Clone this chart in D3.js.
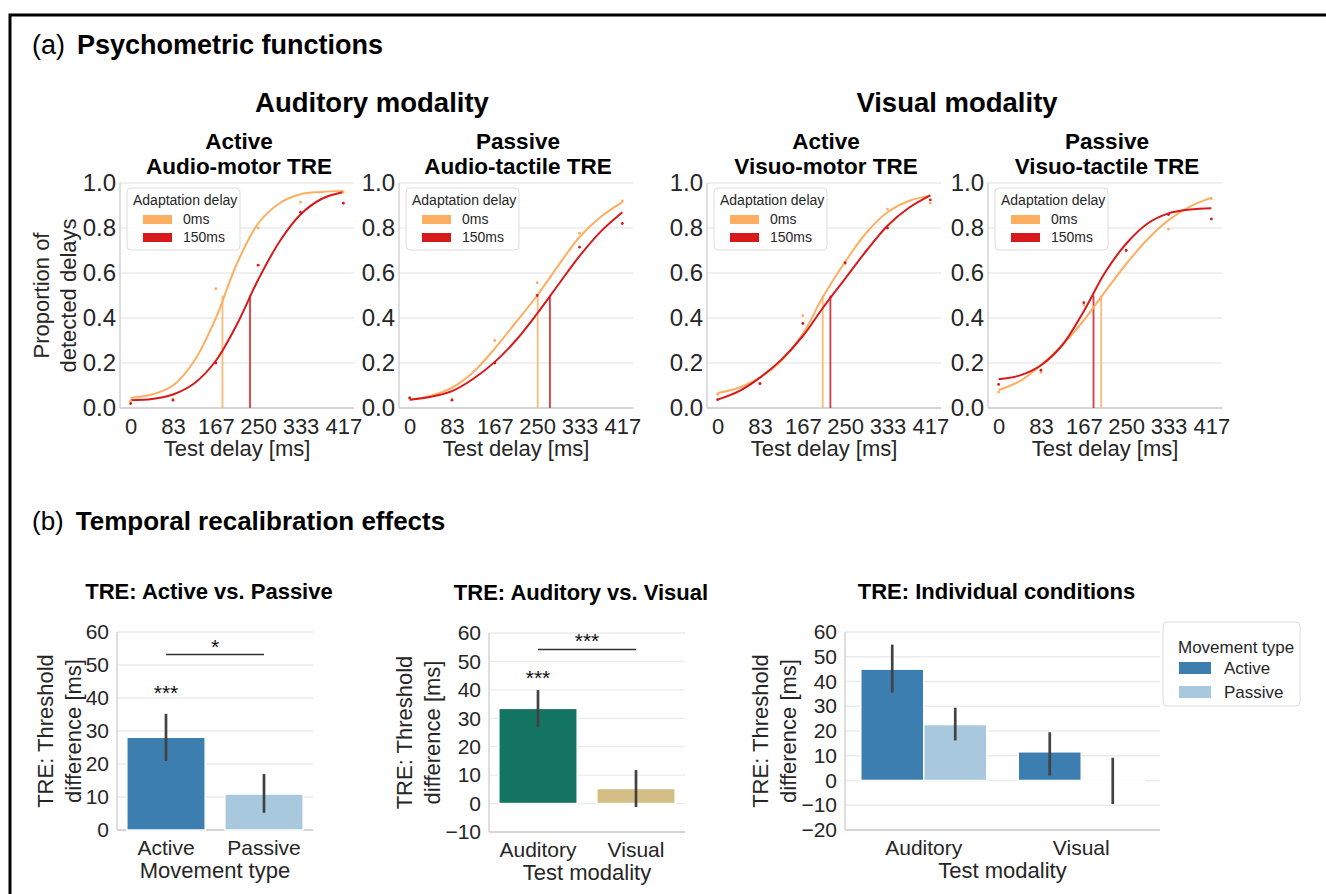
<!DOCTYPE html>
<html>
<head>
<meta charset="utf-8">
<script src="https://cdn.jsdelivr.net/npm/d3@7"></script>
<style>
  body { margin: 0; background: #fff; }
  svg { display: block; font-family: "Liberation Sans", Arial, sans-serif; }
</style>
</head>
<body>
<div id="container"></div>
<script>
// ---------------------------------------------------------------------
// Data, (a) psychometric functions
const delayTicks = [0, 83, 167, 250, 333, 417];
const fitDelays = [0, 42, 83, 125, 167, 208, 250, 292, 333, 375, 417];
const adaptationLabels = ["0ms", "150ms"];
const panelTitles = [
    ["Active", "Audio-motor TRE"],
    ["Passive", "Audio-tactile TRE"],
    ["Active", "Visuo-motor TRE"],
    ["Passive", "Visuo-tactile TRE"]
];
const modalityTitles = ["Auditory modality", "Visual modality"];

// fitted curves at fitDelays
const fitAudioMotor0 = [0.045, 0.06, 0.10, 0.21, 0.40, 0.64, 0.82, 0.91, 0.95, 0.96, 0.965];
const fitAudioMotor150 = [0.035, 0.04, 0.06, 0.11, 0.21, 0.37, 0.57, 0.74, 0.86, 0.93, 0.96];
const fitAudioTactile0 = [0.037, 0.055, 0.09, 0.16, 0.265, 0.38, 0.50, 0.635, 0.76, 0.85, 0.915];
const fitAudioTactile150 = [0.037, 0.05, 0.075, 0.13, 0.205, 0.30, 0.42, 0.55, 0.675, 0.785, 0.87];
const fitVisuoMotor0 = [0.067, 0.09, 0.135, 0.21, 0.33, 0.50, 0.65, 0.78, 0.87, 0.92, 0.945];
const fitVisuoMotor150 = [0.037, 0.075, 0.135, 0.215, 0.32, 0.45, 0.575, 0.70, 0.81, 0.89, 0.945];
const fitVisuoTactile0 = [0.08, 0.12, 0.19, 0.28, 0.39, 0.515, 0.64, 0.75, 0.835, 0.895, 0.935];
const fitVisuoTactile150 = [0.128, 0.145, 0.19, 0.28, 0.43, 0.60, 0.73, 0.82, 0.865, 0.882, 0.888];

// observed proportions at delayTicks
const dotsAudioMotor0 = [0.03, 0.04, 0.53, 0.80, 0.915, 0.96];
const dotsAudioMotor150 = [0.02, 0.035, 0.20, 0.635, 0.87, 0.91];
const dotsAudioTactile0 = [0.045, 0.04, 0.30, 0.557, 0.777, 0.92];
const dotsAudioTactile150 = [0.045, 0.035, 0.20, 0.50, 0.715, 0.82];
const dotsVisuoMotor0 = [0.06, 0.11, 0.41, 0.64, 0.884, 0.91];
const dotsVisuoMotor150 = [0.037, 0.108, 0.376, 0.646, 0.80, 0.925];
const dotsVisuoTactile0 = [0.071, 0.158, 0.458, 0.703, 0.795, 0.93];
const dotsVisuoTactile150 = [0.105, 0.168, 0.468, 0.70, 0.86, 0.84];

// 50% thresholds [ms]
const threshold0 = [180, 251, 206, 201];
const threshold150 = [234, 275, 221, 186];

// ---------------------------------------------------------------------
// Data, (b) temporal recalibration effects
const movementTypes = ["Active", "Passive"];
const treMovement = [28.1, 10.9];
const ciMovement = [[20.9, 35.2], [5.2, 17.0]];

const modalities = ["Auditory", "Visual"];
const treModality = [33.5, 5.3];
const ciModality = [[26.8, 39.9], [-1.2, 11.8]];

const treActive = [45.0, 11.6];
const trePassive = [22.6, -0.4];
const ciActive = [[35.5, 54.9], [2.0, 19.5]];
const ciPassive = [[16.2, 29.4], [-9.5, 9.2]];

// ---------------------------------------------------------------------
// Styles
const W = 1326, H = 894;
const textColor = "#262626";
const gridColor = "#ebebeb";
const spineColor = "#cccccc";
const orange = "#fdae61", red = "#d7191c";
const activeBlue = "#3d7eb1", passiveBlue = "#a7c8dd";
const teal = "#147562", tan = "#d5be86";
const errColor = "#424242";
const labelSize = 22;

const svg = d3.select("#container").append("svg")
    .attr("width", W).attr("height", H);

// outer frame
svg.append("rect")
    .attr("x", 10).attr("y", 15).attr("width", W + 20).attr("height", H + 20)
    .attr("fill", "none").attr("stroke", "#000").attr("stroke-width", 3);

// section headings
function heading(x, y, tag, text, size) {
    const t = svg.append("text").attr("x", x).attr("y", y)
        .attr("font-size", size).attr("fill", "#000");
    t.append("tspan").text(tag);
    t.append("tspan").attr("dx", 12).attr("font-weight", "bold").text(text);
}
heading(32, 54, "(a)", "Psychometric functions", 27);
heading(32, 530, "(b)", "Temporal recalibration effects", 26);

// ---------------------------------------------------------------------
// (a) psychometric panels
const psyLefts = [120, 399, 707, 988];
const psyTop = 183, psyW = 234, psyH = 225;
const psyPanels = [
    [fitAudioMotor0, fitAudioMotor150, dotsAudioMotor0, dotsAudioMotor150],
    [fitAudioTactile0, fitAudioTactile150, dotsAudioTactile0, dotsAudioTactile150],
    [fitVisuoMotor0, fitVisuoMotor150, dotsVisuoMotor0, dotsVisuoMotor150],
    [fitVisuoTactile0, fitVisuoTactile150, dotsVisuoTactile0, dotsVisuoTactile150]
];

const px = d3.scaleLinear().domain([-20.85, 437.85]).range([0, psyW]);
const py = d3.scaleLinear().domain([0, 1]).range([psyH, 0]);
const fitLine = d3.line()
    .x(d => px(d[0]))
    .y(d => py(d[1]))
    .curve(d3.curveCatmullRom.alpha(0.5));

modalityTitles.forEach((t, i) => {
    const cx = i == 0 ? 372 : 957;
    svg.append("text").attr("x", cx).attr("y", 112)
        .attr("text-anchor", "middle").attr("font-size", 27.5)
        .attr("font-weight", "bold").attr("fill", "#000").text(t);
});

psyPanels.forEach((p, i) => {
    const [fit0, fit150, dots0, dots150] = p;
    const g = svg.append("g").attr("transform", `translate(${psyLefts[i]},${psyTop})`);

    // title
    panelTitles[i].forEach((line, j) => {
        g.append("text").attr("x", psyW / 2 + 2).attr("y", -34 + j * 25)
            .attr("text-anchor", "middle").attr("font-size", 22.5)
            .attr("font-weight", "bold").attr("fill", "#000").text(line);
    });

    // grid + spines
    const yTicks = [0, 0.2, 0.4, 0.6, 0.8, 1.0];
    g.selectAll(".grid").data(yTicks).join("line")
        .attr("x1", 0).attr("x2", psyW)
        .attr("y1", d => py(d)).attr("y2", d => py(d))
        .attr("stroke", gridColor).attr("stroke-width", 1.3);
    g.append("line").attr("x1", 0).attr("x2", 0).attr("y1", 0).attr("y2", psyH)
        .attr("stroke", spineColor).attr("stroke-width", 1.3);
    g.append("line").attr("x1", 0).attr("x2", psyW).attr("y1", psyH).attr("y2", psyH)
        .attr("stroke", spineColor).attr("stroke-width", 1.3);

    // axes
    const ya = g.append("g").call(d3.axisLeft(py).tickValues(yTicks)
        .tickSize(0).tickPadding(4).tickFormat(d3.format(".1f")));
    const xa = g.append("g").attr("transform", `translate(0,${psyH})`)
        .call(d3.axisBottom(px).tickValues(delayTicks).tickSize(0).tickPadding(10)
            .tickFormat(d3.format("d")));
    [ya, xa].forEach(a => {
        a.select(".domain").remove();
        a.selectAll("text").attr("fill", textColor)
            .attr("font-family", "Liberation Sans, Arial, sans-serif");
    });
    ya.selectAll("text").attr("font-size", 24);
    xa.selectAll("text").attr("font-size", 22);
    g.append("text").attr("x", psyW / 2).attr("y", psyH + 48)
        .attr("text-anchor", "middle").attr("font-size", labelSize).attr("fill", textColor)
        .text("Test delay [ms]");

    // threshold markers
    [[threshold0[i], orange], [threshold150[i], red]].forEach(([t, c]) => {
        g.append("line").attr("x1", px(t)).attr("x2", px(t))
            .attr("y1", py(0)).attr("y2", py(0.5))
            .attr("stroke", c).attr("stroke-width", 1.8).attr("opacity", 0.85);
    });

    // curves
    [[fit0, orange], [fit150, red]].forEach(([vals, c]) => {
        g.append("path").datum(d3.zip(fitDelays, vals))
            .attr("fill", "none").attr("stroke", c).attr("stroke-width", 2)
            .attr("d", fitLine);
    });

    // observed dots
    [[dots0, orange], [dots150, red]].forEach(([vals, c]) => {
        g.selectAll(null).data(d3.zip(delayTicks, vals)).join("circle")
            .attr("cx", d => px(d[0])).attr("cy", d => py(d[1]))
            .attr("r", 1.4).attr("fill", c);
    });

    // legend
    const lg = g.append("g").attr("transform", "translate(7,5)");
    lg.append("rect").attr("width", 113).attr("height", 62).attr("rx", 4)
        .attr("fill", "#fff").attr("fill-opacity", 0.85)
        .attr("stroke", "#dcdcdc").attr("stroke-width", 1);
    lg.append("text").attr("x", 6).attr("y", 17).attr("font-size", 14)
        .attr("fill", textColor).text("Adaptation delay");
    [orange, red].forEach((c, j) => {
        lg.append("rect").attr("x", 16).attr("y", 27 + j * 18)
            .attr("width", 29).attr("height", 9).attr("fill", c);
        lg.append("text").attr("x", 56).attr("y", 36 + j * 18)
            .attr("font-size", 14).attr("fill", textColor).text(adaptationLabels[j]);
    });
});

// y label for the first psychometric panel
["Proportion of", "detected delays"].forEach((t, j) => {
    svg.append("text")
        .attr("transform", `translate(${49 + j * 27},${psyTop + psyH / 2}) rotate(-90)`)
        .attr("text-anchor", "middle").attr("font-size", labelSize).attr("fill", textColor)
        .text(t);
});

// ---------------------------------------------------------------------
// (b) bar panels
function barPanel(opts) {
    const { left, top, width, height, domain, ticks, cats, title, xLabel, labelX } = opts;
    const g = svg.append("g").attr("transform", `translate(${left},${top})`);
    const x = d3.scaleBand().domain(cats).range([0, width]).paddingInner(0.2).paddingOuter(0.1);
    const y = d3.scaleLinear().domain(domain).range([height, 0]);

    g.selectAll(".grid").data(ticks).join("line")
        .attr("x1", 0).attr("x2", width)
        .attr("y1", d => y(d)).attr("y2", d => y(d))
        .attr("stroke", gridColor).attr("stroke-width", 1.3);
    g.append("line").attr("x1", 0).attr("x2", 0).attr("y1", 0).attr("y2", height)
        .attr("stroke", spineColor).attr("stroke-width", 1.3);
    g.append("line").attr("x1", 0).attr("x2", width).attr("y1", height).attr("y2", height)
        .attr("stroke", spineColor).attr("stroke-width", 1.3);

    const ya = g.append("g").call(d3.axisLeft(y).tickValues(ticks).tickSize(0).tickPadding(8)
        .tickFormat(d3.format("d")));
    const xa = g.append("g").attr("transform", `translate(0,${height})`)
        .call(d3.axisBottom(x).tickSize(0).tickPadding(10));
    [ya, xa].forEach(a => {
        a.select(".domain").remove();
        a.selectAll("text").attr("font-size", 21).attr("fill", textColor)
            .attr("font-family", "Liberation Sans, Arial, sans-serif");
    });

    g.append("text").attr("x", width / 2).attr("y", height + 48)
        .attr("text-anchor", "middle").attr("font-size", labelSize).attr("fill", textColor)
        .text(xLabel);
    g.append("text").attr("x", width / 2 - 6).attr("y", -33)
        .attr("text-anchor", "middle").attr("font-size", 22)
        .attr("font-weight", "bold").attr("fill", "#000").text(title);

    ["TRE: Threshold", "difference [ms]"].forEach((t, j) => {
        g.append("text")
            .attr("transform", `translate(${labelX + j * 28},${height / 2}) rotate(-90)`)
            .attr("text-anchor", "middle").attr("font-size", labelSize).attr("fill", textColor)
            .text(t);
    });
    return { g, x, y };
}

function drawBars(g, x, y, cats, vals, cis, colors, sub) {
    const bx = c => sub ? x(c) + sub.offset : x(c);
    const bw = sub ? sub.width : x.bandwidth();
    g.selectAll(null).data(d3.zip(cats, vals, colors)).join("rect")
        .attr("x", d => bx(d[0]))
        .attr("y", d => y(Math.max(0, d[1])))
        .attr("width", bw)
        .attr("height", d => Math.abs(y(d[1]) - y(0)))
        .attr("fill", d => d[2])
        .attr("stroke", "#fff").attr("stroke-width", 1.5);
    g.selectAll(null).data(d3.zip(cats, cis)).join("line")
        .attr("x1", d => bx(d[0]) + bw / 2).attr("x2", d => bx(d[0]) + bw / 2)
        .attr("y1", d => y(d[1][0])).attr("y2", d => y(d[1][1]))
        .attr("stroke", errColor).attr("stroke-width", 2.7);
}

function sigMark(g, x, y, cat, val, label) {
    g.append("text").attr("x", x(cat) + x.bandwidth() / 2).attr("y", y(val) + 12)
        .attr("text-anchor", "middle").attr("font-size", 21).attr("fill", "#111")
        .text(label);
}

function sigBracket(g, x, y, cats, val, label, labelVal) {
    const x1 = x(cats[0]) + x.bandwidth() / 2, x2 = x(cats[1]) + x.bandwidth() / 2;
    g.append("line").attr("x1", x1).attr("x2", x2).attr("y1", y(val)).attr("y2", y(val))
        .attr("stroke", "#333").attr("stroke-width", 1.6);
    g.append("text").attr("x", (x1 + x2) / 2).attr("y", y(labelVal) + 12)
        .attr("text-anchor", "middle").attr("font-size", 21).attr("fill", "#111")
        .text(label);
}

// panel 1: Active vs. Passive
{
    const { g, x, y } = barPanel({
        left: 117, top: 632, width: 196, height: 198,
        domain: [0, 60], ticks: [0, 10, 20, 30, 40, 50, 60],
        cats: movementTypes, title: "TRE: Active vs. Passive",
        xLabel: "Movement type", labelX: -64
    });
    drawBars(g, x, y, movementTypes, treMovement, ciMovement, [activeBlue, passiveBlue]);
    sigMark(g, x, y, "Active", 43, "***");
    sigBracket(g, x, y, movementTypes, 53.2, "*", 57);
}

// panel 2: Auditory vs. Visual
{
    const { g, x, y } = barPanel({
        left: 489, top: 633, width: 196, height: 199,
        domain: [-10, 60], ticks: [-10, 0, 10, 20, 30, 40, 50, 60],
        cats: modalities, title: "TRE: Auditory vs. Visual",
        xLabel: "Test modality", labelX: -77
    });
    drawBars(g, x, y, modalities, treModality, ciModality, [teal, tan]);
    sigMark(g, x, y, "Auditory", 46, "***");
    sigBracket(g, x, y, modalities, 54.2, "***", 59);
}

// panel 3: individual conditions
{
    const { g, x, y } = barPanel({
        left: 845, top: 632, width: 315, height: 198,
        domain: [-20, 60], ticks: [-20, -10, 0, 10, 20, 30, 40, 50, 60],
        cats: modalities, title: "TRE: Individual conditions",
        xLabel: "Test modality", labelX: -77
    });
    const hue = d3.scaleBand().domain(movementTypes).range([0, x.bandwidth()]);
    drawBars(g, x, y, modalities, treActive, ciActive, [activeBlue, activeBlue],
        { offset: hue("Active"), width: hue.bandwidth() });
    drawBars(g, x, y, modalities, trePassive, ciPassive, [passiveBlue, passiveBlue],
        { offset: hue("Passive"), width: hue.bandwidth() });

    // legend
    const lg = svg.append("g").attr("transform", "translate(1163,622)");
    lg.append("rect").attr("width", 137).attr("height", 84).attr("rx", 4)
        .attr("fill", "#fff").attr("stroke", "#dcdcdc");
    lg.append("text").attr("x", 15).attr("y", 31).attr("font-size", 17)
        .attr("fill", textColor).text("Movement type");
    [activeBlue, passiveBlue].forEach((c, j) => {
        lg.append("rect").attr("x", 16).attr("y", 40 + j * 24)
            .attr("width", 32).attr("height", 12).attr("fill", c);
        lg.append("text").attr("x", 61).attr("y", 52 + j * 24).attr("font-size", 17)
            .attr("fill", textColor).text(movementTypes[j]);
    });
}
</script>
</body>
</html>
